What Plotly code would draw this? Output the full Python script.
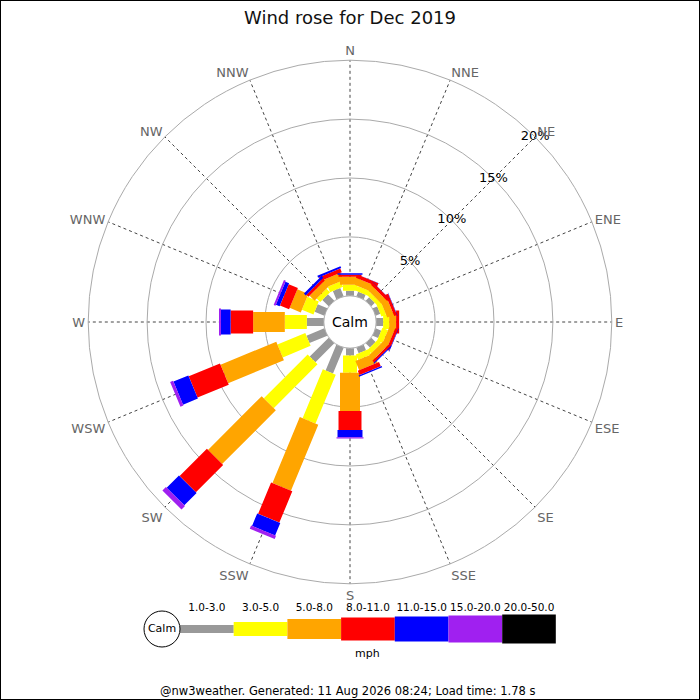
import numpy as np
import plotly.graph_objects as go

# wind directions, clockwise from north
directions = ["N", "NNE", "NE", "ENE", "E", "ESE", "SE", "SSE",
              "S", "SSW", "SW", "WSW", "W", "WNW", "NW", "NNW"]
dir_angles = [i * 22.5 for i in range(16)]

speed_labels = ["1.0-3.0", "3.0-5.0", "5.0-8.0", "8.0-11.0",
                "11.0-15.0", "15.0-20.0", "20.0-50.0"]

# percent of time in each direction, per speed class (mph)
pct_1_3 = [0.42, 0.42, 0.42, 0.42, 0.59, 0.51, 0.51, 0.51, 0.62, 2.37, 2.27, 1.64, 1.44, 0.89, 0.76, 0.76]
pct_3_5 = [0.51, 0.43, 0.34, 0.43, 0.51, 0.51, 0.42, 0.51, 1.47, 4.49, 5.26, 2.56, 1.87, 1.06, 0.43, 0.51]
pct_5_8 = [0.68, 0.59, 0.51, 0.59, 0.59, 0.51, 0.51, 0.84, 3.25, 6.07, 6.45, 5.12, 2.69, 1.02, 0.59, 0.68]
pct_8_11 = [0.17, 0.30, 0.26, 0.25, 0.26, 0.25, 0.21, 0.39, 1.61, 2.87, 3.27, 2.87, 1.91, 0.84, 0.25, 0.34]
pct_11_15 = [0.13, 0.02, 0.02, 0.03, 0.00, 0.04, 0.09, 0.12, 0.62, 1.15, 1.48, 1.37, 0.82, 0.34, 0.22, 0.17]
pct_15_20 = [0.00, 0.00, 0.00, 0.00, 0.00, 0.00, 0.00, 0.00, 0.10, 0.29, 0.42, 0.27, 0.17, 0.17, 0.00, 0.00]
pct_20_50 = [0.00, 0.00, 0.00, 0.00, 0.00, 0.00, 0.00, 0.00, 0.00, 0.00, 0.00, 0.00, 0.00, 0.00, 0.00, 0.00]

radial_ticks = [5, 10, 15, 20]

series = [pct_1_3, pct_3_5, pct_5_8, pct_8_11, pct_11_15, pct_15_20, pct_20_50]
colors = ["#999999", "#ffff00", "#ffa500", "#ff0000", "#0000ff", "#a020f0", "#000000"]
bar_px = [8, 14, 20, 23, 25, 27, 29]   # bar thickness in pixels per class

HOLE = 0.1
R_MAX = 20
OUTER_PX = 262
px_per_pct = OUTER_PX * (1 - HOLE) / R_MAX
C = R_MAX * HOLE / (1 - HOLE)          # hole radius in % units


def rect(theta, r0, r1, hw):
    # straight-sided bar from r0 to r1 with half width hw (in % units)
    rr, tt = [], []
    for a, s in [(r0, -1), (r1, -1), (r1, 1), (r0, 1)]:
        A = a + C
        rr.append(np.hypot(A, hw) - C)
        tt.append(theta + s * np.degrees(np.arctan2(hw, A)))
    return rr, tt


fig = go.Figure()

base = np.zeros(16)
for k, vals in enumerate(series):
    hw = bar_px[k] / 2 / px_per_pct
    rs, ts = [], []
    for i, v in enumerate(vals):
        if v > 0:
            rr, tt = rect(dir_angles[i], base[i], base[i] + v, hw)
            rs += rr + [rr[0], None]
            ts += tt + [tt[0], None]
    base = base + np.array(vals)
    if rs:
        fig.add_trace(go.Scatterpolar(
            r=rs, theta=ts, mode="lines", fill="toself", fillcolor=colors[k],
            line=dict(width=0, color=colors[k]), hoverinfo="skip", showlegend=False,
        ))

fig.add_trace(go.Scatterpolar(
    r=radial_ticks, theta=[45] * len(radial_ticks), mode="text",
    text=[f"{t}%" for t in radial_ticks],
    textfont=dict(size=13, color="black"), hoverinfo="skip", showlegend=False,
))

# legend key drawn as bars on a small cartesian axis
seg = 53.7
fig.add_trace(go.Bar(
    x=list(range(7)), y=bar_px, base=[-h / 2 for h in bar_px], width=1,
    marker=dict(color=colors, line=dict(width=0)), xaxis="x", yaxis="y",
    hoverinfo="skip", showlegend=False,
))
fig.add_trace(go.Scatter(
    x=[-0.5 - 18 / seg], y=[0], mode="markers+text", text=["Calm"],
    textposition="middle center", textfont=dict(size=11, color="black"),
    marker=dict(size=36, color="white", line=dict(color="black", width=1)),
    xaxis="x", yaxis="y", hoverinfo="skip", showlegend=False, cliponaxis=False,
))

fig.update_layout(
    width=700, height=700,
    margin=dict(l=0, r=0, t=0, b=0),
    paper_bgcolor="white",
    font=dict(family="DejaVu Sans", color="black"),
    title=dict(text="Wind rose for Dec 2019", x=0.5, xanchor="center",
               y=1 - 18 / 700, yanchor="middle", font=dict(size=18, color="#111")),
    polar=dict(
        domain=dict(x=[0.126, 0.874], y=[0.1657, 0.9143]),
        hole=HOLE, bgcolor="white",
        radialaxis=dict(range=[0, R_MAX], tickvals=radial_ticks, showticklabels=False,
                        ticks="", showline=False, gridcolor="#aaaaaa", gridwidth=1),
        angularaxis=dict(direction="clockwise", rotation=90, tickmode="array",
                         tickvals=dir_angles, ticktext=directions, ticks="",
                         showline=True, linecolor="#aaaaaa", linewidth=1,
                         gridcolor="#444444", griddash="dot", gridwidth=1,
                         tickfont=dict(size=13, color="#666666")),
    ),
    xaxis=dict(domain=[(180 - 0.5 * seg) / 700, (180 + 7 * seg) / 700],
               range=[-1, 6.5], side="top", tickmode="array", tickvals=list(range(7)),
               ticktext=speed_labels, tickangle=0, showgrid=False, zeroline=False,
               showline=False, ticks="", tickfont=dict(size=10.5, color="black"),
               fixedrange=True),
    yaxis=dict(domain=[(700 - 644) / 700, (700 - 614) / 700], range=[-15, 15],
               visible=False, fixedrange=True),
    plot_bgcolor="rgba(0,0,0,0)",
    annotations=[
        dict(text="Calm", x=0.5, y=378 / 700, xref="paper", yref="paper",
             yanchor="middle", showarrow=False, font=dict(size=14, color="black")),
        dict(text="mph", x=(180 + 3.5 * seg) / 700, y=(700 - 653) / 700,
             xref="paper", yref="paper", yanchor="middle", showarrow=False,
             font=dict(size=11)),
        dict(text="@nw3weather. Generated: 11 Aug 2026 08:24; Load time: 1.78 s",
             x=0.497, y=(700 - 691) / 700, xref="paper", yref="paper",
             yanchor="middle", showarrow=False, font=dict(size=11.5)),
    ],
    shapes=[dict(type="rect", xref="paper", yref="paper", x0=0, y0=0, x1=1, y1=1,
                 line=dict(color="black", width=2))],
)

fig.write_html("out.html", config={"displayModeBar": False},
               post_script="document.body.style.margin='0px';"
                           "document.body.style.overflow='hidden';")
